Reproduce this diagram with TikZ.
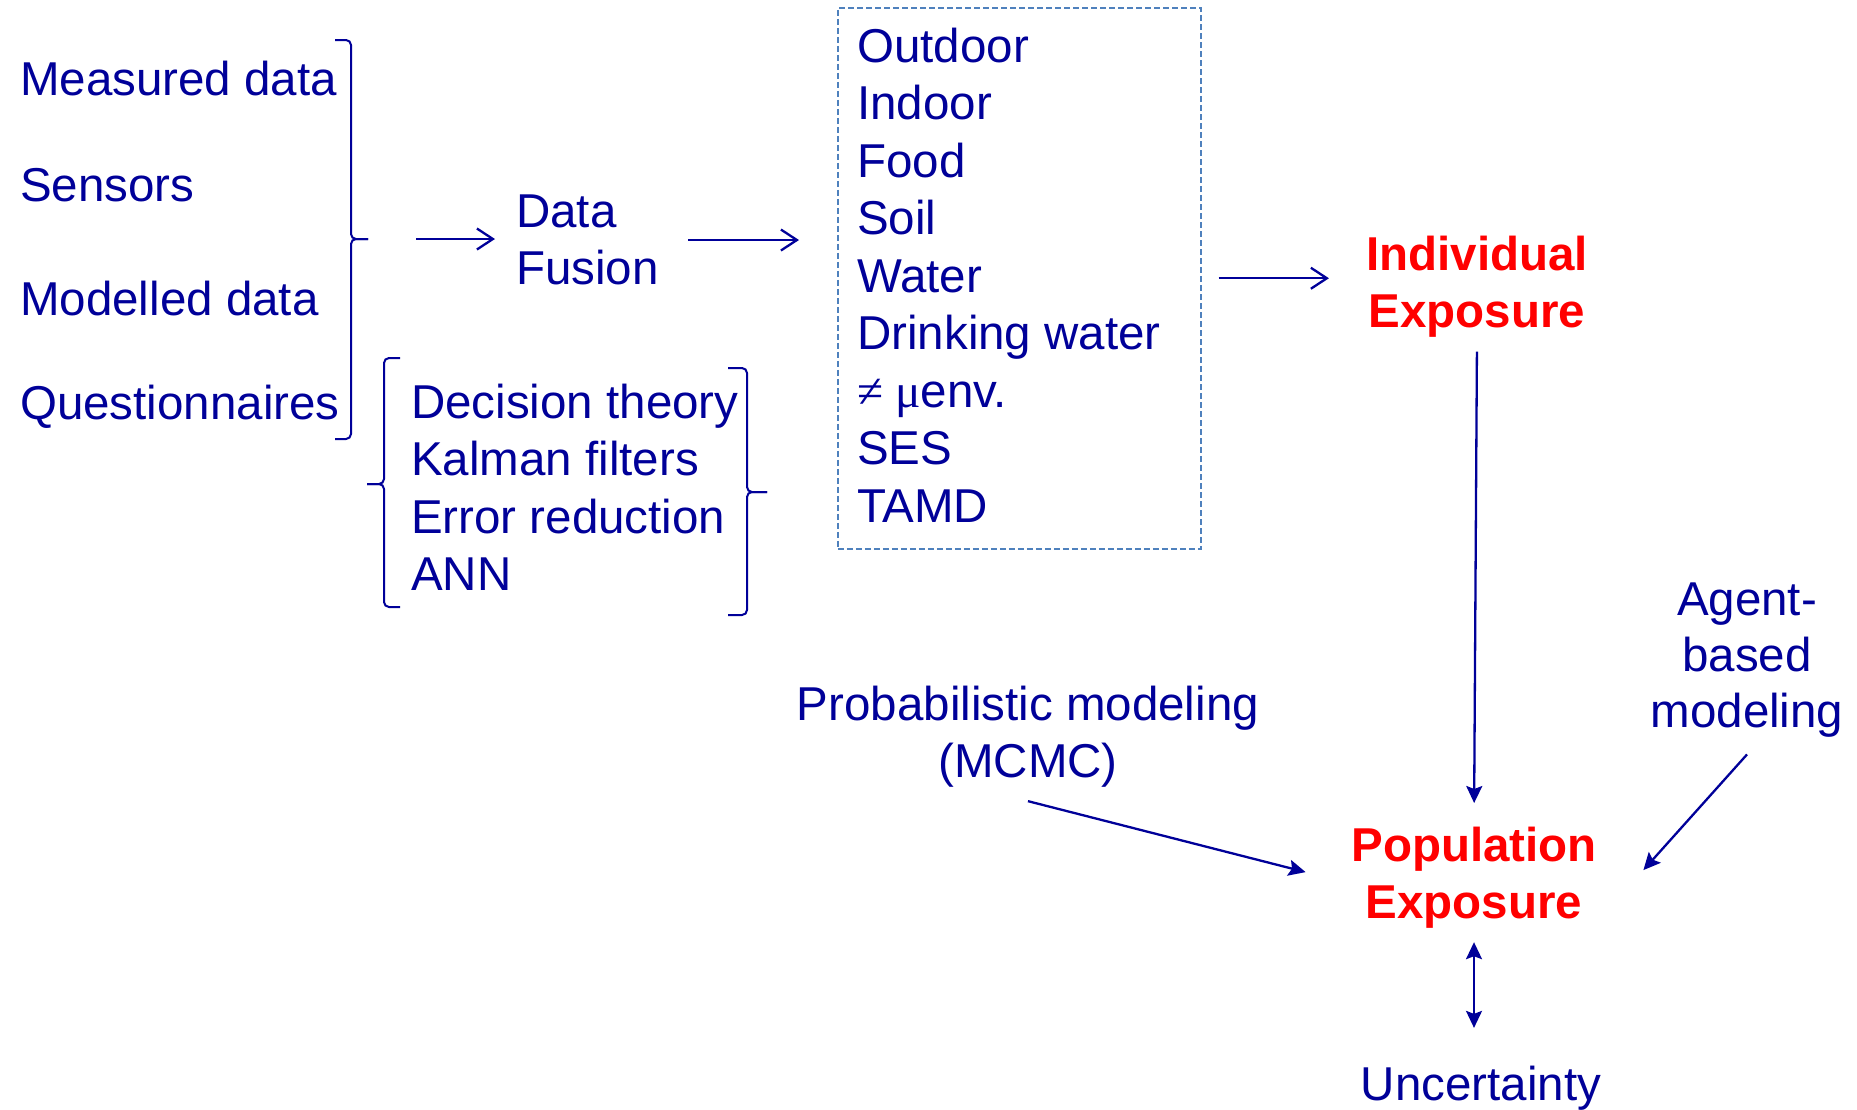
\documentclass[tikz,border=0pt]{standalone}
\usepackage{fontspec}
\setmainfont{Liberation Sans}
\newfontfamily\serifface{Liberation Serif}
\usetikzlibrary{arrows.meta}
\definecolor{inkblue}{RGB}{0,0,153}
\definecolor{alertred}{RGB}{255,0,0}
\definecolor{frameblue}{RGB}{79,129,189}
\begin{document}
\begin{tikzpicture}[x=1pt,y=-1pt,
  txt/.style={inner sep=0pt, text=inkblue, font=\fontsize{47.5pt}{57.5pt}\selectfont},
  hot/.style={inner sep=0pt, text=alertred, font=\fontsize{47.5pt}{57.5pt}\selectfont\bfseries},
  link/.style={draw=inkblue, line width=2.3pt},
  openarrow/.style={link, -{Straight Barb[length=16pt,width=21pt]}},
  solidarrow/.style={link, -{Stealth[length=17pt,width=16pt,inset=3pt]}},
  twoway/.style={link, {Stealth[length=17pt,width=16pt,inset=3pt]}-{Stealth[length=17pt,width=16pt,inset=3pt]}},
  bracket/.style={draw=inkblue, line width=2pt, rounded corners=5pt},
  dashframe/.style={draw=frameblue, line width=1.5pt, dash pattern=on 6pt off 3pt}
]
\useasboundingbox (0,0) rectangle (1857,1109);
\fill[white] (0,0) rectangle (1857,1109);

% data sources
\node[txt, anchor=base west] (meas)  at (20,95)  {Measured data};
\node[txt, anchor=base west] (sens)  at (20,201) {Sensors};
\node[txt, anchor=base west] (model) at (20,315) {Modelled data};
\node[txt, anchor=base west] (quest) at (20,419) {Questionnaires};

% closing brace around the sources
\coordinate (srcTip) at (368,239);
\draw[bracket] (335,40) -- (351,40) -- (351,239) -- (srcTip);
\draw[bracket] (srcTip) -- (351,239) -- (351,439) -- (335,439);

% fusion step
\node[txt, anchor=north west, align=left] (fusion) at (516,194.5) {Data\\Fusion};

% fusion methods with their braces
\node[txt, anchor=north west, align=left] (methods) at (411,383.5)
  {Decision theory\\Kalman filters\\Error reduction\\ANN};
\draw[bracket] (400,358) -- (384,358) -- (384,484) -- (367,484);
\draw[bracket] (367,484) -- (384,484) -- (384,607) -- (400,607);
\draw[bracket] (728,368) -- (747,368) -- (747,492) -- (767,492);
\draw[bracket] (767,492) -- (747,492) -- (747,615) -- (728,615);

% exposure media
\node[dashframe, minimum width=363pt, minimum height=541pt, anchor=north west] (box) at (837,7) {};
\node[txt, anchor=north west, align=left] (media) at (857,27.5)
  {Outdoor\\Indoor\\Food\\Soil\\Water\\Drinking water\\{\serifface ≠ μ}env.\\SES\\TAMD};

% exposures
\node[hot, anchor=north, align=center] (indiv) at (1477,235.5) {Individual\\Exposure};
\node[hot, anchor=north, align=center] (pop) at (1474,826.5) {Population\\Exposure};

% modelling approaches
\node[txt, anchor=north, align=center] (prob) at (1028,685.5) {Probabilistic modeling\\(MCMC)};
\node[txt, anchor=north, align=center, font=\fontsize{47.5pt}{56pt}\selectfont] (agent) at (1747,582.5)
  {Agent-\\based\\modeling};
\node[txt, anchor=base] (unc) at (1481,1100) {Uncertainty};

% connectors
\draw[openarrow, shorten <=48pt, shorten >=21pt] (srcTip) -- (srcTip -| fusion.west);
\draw[openarrow, shorten <=29.5pt, shorten >=38pt] (fusion.east) -- (fusion.east -| box.west);
\draw[openarrow, shorten <=17pt, shorten >=37pt] (box.east) -- (box.east -| indiv.west);
\draw[solidarrow, shorten <=14pt, shorten >=23.5pt] (indiv.south) -- (pop.north);
\draw[solidarrow] (prob.south) ++(0,13.5) -- ([xshift=-45.5pt,yshift=5.5pt]pop.west);
\draw[solidarrow] (agent.south) ++(0,17) -- ([xshift=46.5pt,yshift=7.5pt]pop.east);
\draw[twoway, shorten <=13.5pt, shorten >=37.5pt] (pop.south) -- (pop.south |- unc.north);
\end{tikzpicture}
\end{document}
